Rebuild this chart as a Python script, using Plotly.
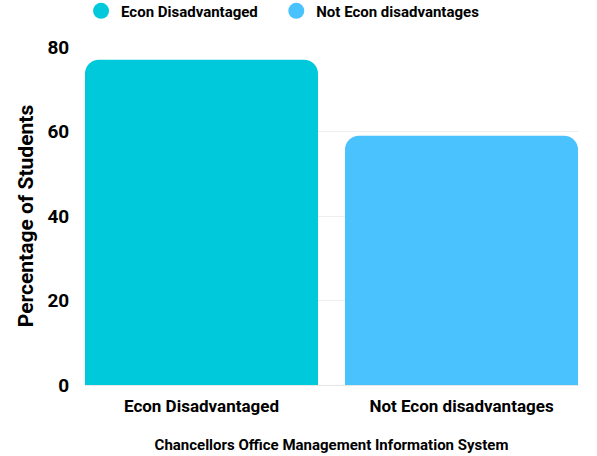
import plotly.graph_objects as go

categories = ["Econ Disadvantaged", "Not Econ disadvantages"]
values = [77, 59]
colors = ["#00C9DB", "#4AC2FD"]
y_ticks = [0, 20, 40, 60, 80]

FONT = "Roboto, Liberation Sans, sans-serif"
legend_ids = ["legend", "legend2"]

fig = go.Figure()
for cat, val, col, lg in zip(categories, values, colors, legend_ids):
    fig.add_trace(go.Bar(
        x=[cat], y=[val], name=cat, showlegend=False,
        marker=dict(color=col, cornerradius=14, line=dict(width=0)),
        width=0.896,
    ))
    fig.add_trace(go.Scatter(
        x=[None], y=[None], mode="markers", name=cat, legend=lg,
        marker=dict(symbol="circle", size=16, color=col),
    ))

legend_style = dict(orientation="h", y=1.155, yanchor="top", xanchor="left",
                    font=dict(size=15, family=FONT, weight="bold"),
                    itemsizing="trace", bgcolor="rgba(0,0,0,0)")

fig.update_layout(
    width=597, height=456,
    margin=dict(l=85, r=19, t=47, b=71, autoexpand=False),
    plot_bgcolor="white", paper_bgcolor="white",
    barmode="overlay",
    font=dict(family=FONT, color="black"),
    legend=dict(x=-0.008, **legend_style),
    legend2=dict(x=0.388, **legend_style),
    xaxis=dict(
        type="category", range=[-0.448, 1.448],
        tickfont=dict(size=17, family=FONT, weight="bold"),
        title=dict(text="Chancellors Office Management Information System",
                   font=dict(size=15, family=FONT, weight="bold"), standoff=24),
        showgrid=False, showline=True, linecolor="#E6E6E6", linewidth=1,
        ticks="outside", ticklen=6, tickcolor="rgba(0,0,0,0)",
    ),
    yaxis=dict(
        range=[0, 80], tickvals=y_ticks,
        tickfont=dict(size=19, family=FONT, weight="bold"),
        title=dict(text="Percentage of Students",
                   font=dict(size=21, family=FONT, weight="bold"), standoff=8),
        showgrid=True, gridcolor="#EFEFEF", gridwidth=1, zeroline=False,
        ticks="outside", ticklen=11, tickcolor="rgba(0,0,0,0)",
    ),
)

fig.write_html("out.html", config={"displayModeBar": False},
               post_script="document.body.style.margin='0';")
